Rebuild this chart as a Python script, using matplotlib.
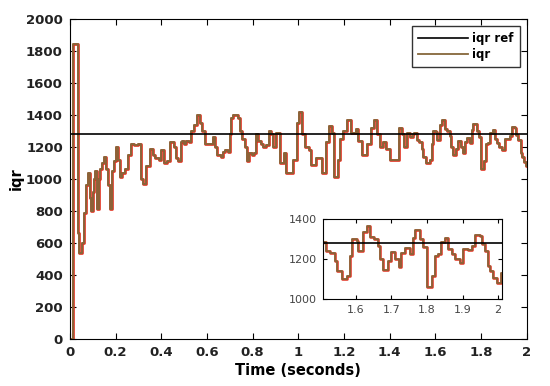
import numpy as np
import matplotlib.pyplot as plt

# iqr signal (step changes: time in s, value)
t_main = [0.000, 0.012, 0.034, 0.040, 0.055, 0.062, 0.070, 0.078, 0.086, 0.094,
          0.100, 0.106, 0.112, 0.118, 0.126, 0.134, 0.142, 0.150, 0.158, 0.166,
          0.176, 0.186, 0.194, 0.202, 0.210, 0.220, 0.230, 0.240, 0.256, 0.266,
          0.280, 0.300, 0.310, 0.320, 0.335, 0.350, 0.365, 0.372, 0.388, 0.400,
          0.410, 0.425, 0.440, 0.455, 0.465, 0.475, 0.485, 0.492, 0.500, 0.510,
          0.520, 0.530, 0.545, 0.555, 0.570, 0.580, 0.590, 0.610, 0.625, 0.635,
          0.645, 0.660, 0.670, 0.680, 0.690, 0.700, 0.705, 0.715, 0.735, 0.745,
          0.755, 0.765, 0.775, 0.785, 0.795, 0.805, 0.815, 0.825, 0.835, 0.845,
          0.860, 0.870, 0.880, 0.890, 0.900, 0.918, 0.938, 0.948, 0.975, 0.995,
          1.004, 1.018, 1.028, 1.045, 1.055, 1.075, 1.105, 1.120, 1.135, 1.145,
          1.155, 1.172, 1.182, 1.195, 1.212, 1.232, 1.250, 1.262, 1.278, 1.302,
          1.318, 1.332, 1.345, 1.355, 1.372, 1.385, 1.402, 1.440, 1.452, 1.462,
          1.475, 1.488, 1.500]
v_main = [0, 1845, 660, 540, 600, 790, 960, 1040, 880, 800,
          920, 1000, 1050, 810, 1000, 1060, 1100, 1140, 1060, 960,
          810, 1050, 1110, 1200, 1120, 1010, 1040, 1060, 1150, 1220,
          1210, 1220, 1000, 970, 1080, 1190, 1150, 1130, 1120, 1180,
          1100, 1110, 1230, 1200, 1130, 1110, 1230, 1240, 1220, 1240,
          1230, 1300, 1340, 1400, 1350, 1300, 1220, 1220, 1260, 1200,
          1150, 1140, 1170, 1180, 1170, 1280, 1380, 1400, 1380, 1300,
          1250, 1200, 1110, 1160, 1150, 1160, 1280, 1240, 1220, 1200,
          1210, 1300, 1280, 1200, 1290, 1100, 1160, 1040, 1120, 1350,
          1420, 1280, 1200, 1180, 1090, 1130, 1040, 1230, 1330, 1290,
          1010, 1120, 1250, 1300, 1370, 1290, 1310, 1240, 1150, 1220,
          1320, 1370, 1280, 1200, 1230, 1190, 1118, 1320, 1280, 1200,
          1290, 1260, 1280]

t_tail = [1.508, 1.517, 1.527, 1.540, 1.546, 1.560, 1.574, 1.583, 1.588, 1.602,
          1.607, 1.620, 1.630, 1.640, 1.650, 1.663, 1.668, 1.677, 1.690, 1.700,
          1.710, 1.720, 1.728, 1.738, 1.752, 1.761, 1.766, 1.780, 1.790, 1.800,
          1.813, 1.822, 1.830, 1.840, 1.850, 1.860, 1.870, 1.880, 1.893, 1.902,
          1.916, 1.926, 1.935, 1.950, 1.954, 1.963, 1.973, 1.978, 1.987, 1.996,
          2.008, 2.020]
v_tail = [1284, 1242, 1233, 1190, 1140, 1100, 1117, 1216, 1300, 1293,
          1242, 1335, 1366, 1310, 1300, 1267, 1200, 1148, 1190, 1237,
          1200, 1160, 1233, 1254, 1225, 1305, 1344, 1300, 1260, 1060,
          1114, 1216, 1225, 1284, 1305, 1250, 1225, 1200, 1182, 1250,
          1247, 1267, 1323, 1318, 1275, 1242, 1165, 1140, 1105, 1083,
          1130, 1130]

t = np.array(t_main + t_tail)
v = np.array(v_main + v_tail)
iqr_ref = 1280

brown = "#86673a"
red = "#e0301e"

fig = plt.figure(figsize=(5.5, 3.86), dpi=100)
ax = fig.add_axes([0.127, 0.122, 0.831, 0.829])

ax.plot([0, 2], [iqr_ref, iqr_ref], color="black", lw=1.2, label="iqr ref", zorder=3)
ax.step(t, v, where="post", color=red, lw=1.9, zorder=2)
ax.step(t, v, where="post", color=brown, lw=1.3, label="iqr", zorder=2)

ax.set_xlim(0, 2)
ax.set_ylim(0, 2000)
ax.set_xticks(np.arange(0, 2.01, 0.2))
ax.set_xticklabels(["0", "0.2", "0.4", "0.6", "0.8", "1", "1.2", "1.4", "1.6", "1.8", "2"])
ax.set_yticks(np.arange(0, 2001, 200))
ax.tick_params(direction="in", top=True, right=True, length=4, labelsize=9.5, pad=5)
for lab in ax.get_xticklabels() + ax.get_yticklabels():
    lab.set_fontweight("bold")
    lab.set_color("#222222")
ax.set_xlabel("Time (seconds)", fontsize=10.5, fontweight="bold", labelpad=3)
ax.set_ylabel("iqr", fontsize=10.5, fontweight="bold", labelpad=2)

leg = ax.legend(loc="upper right", prop={"weight": "bold", "size": 8.5},
                handlelength=4.2, frameon=True, fancybox=False, edgecolor="black",
                borderaxespad=0.6, labelspacing=0.25, handletextpad=0.4,
                borderpad=0.5)
leg.get_frame().set_linewidth(1.0)

# inset zoom on the last half second
axin = fig.add_axes([0.587, 0.225, 0.325, 0.207])
axin.plot([1.5, 2.01], [iqr_ref, iqr_ref], color="black", lw=1.2, zorder=3)
axin.step(t, v, where="post", color=red, lw=1.8, zorder=2)
axin.step(t, v, where="post", color=brown, lw=1.2, zorder=2)
axin.set_xlim(1.507, 2.01)
axin.set_ylim(1000, 1400)
axin.set_xticks([1.6, 1.7, 1.8, 1.9, 2.0])
axin.set_xticklabels(["1.6", "1.7", "1.8", "1.9", "2"])
axin.set_yticks([1000, 1200, 1400])
axin.tick_params(direction="in", top=True, right=True, length=3, labelsize=8,
                 labelcolor="#444444", pad=4)

fig.savefig("out.png", dpi=100)
